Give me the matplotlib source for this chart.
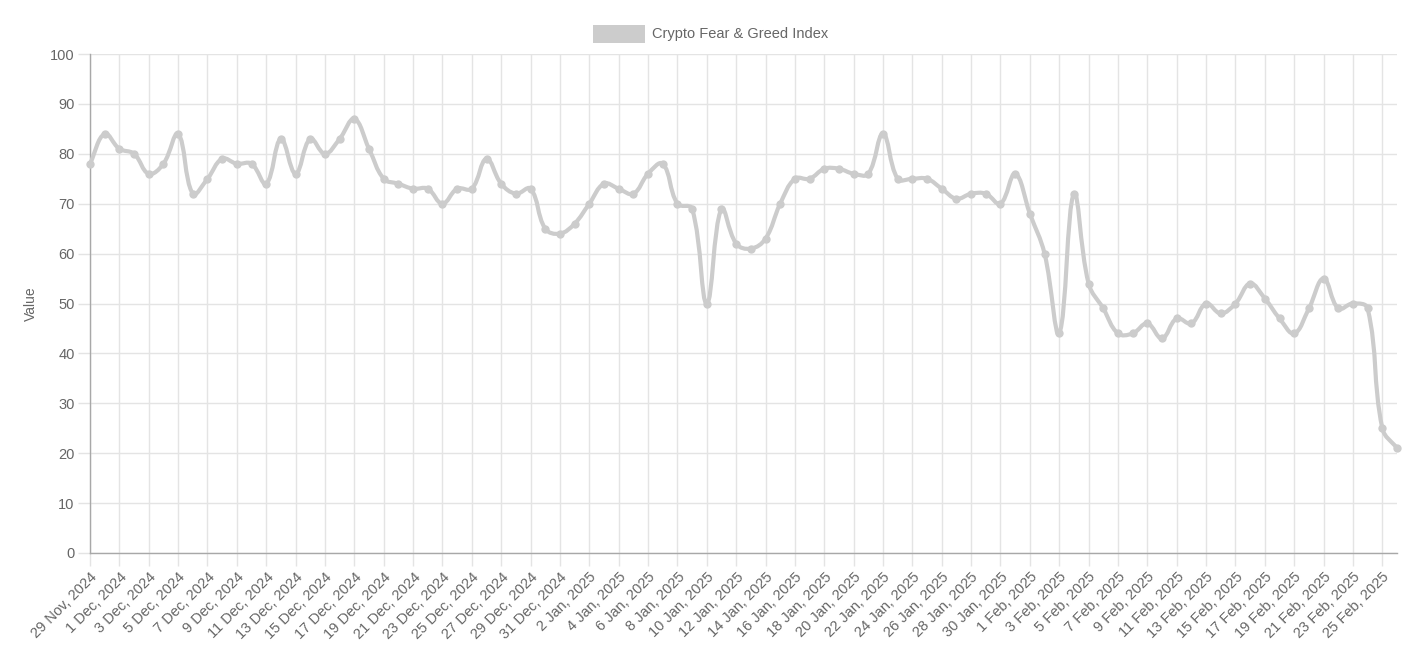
import numpy as np
import pandas as pd
import matplotlib
matplotlib.use('Agg')
import matplotlib.pyplot as plt
from matplotlib.path import Path
from matplotlib.patches import PathPatch, Rectangle

# daily index values, 29 Nov 2024 .. 26 Feb 2025
dates = pd.date_range('2024-11-29', '2025-02-26', freq='D')
values = [78, 84, 81, 80, 76, 78, 84, 72, 75, 79,
          78, 78, 74, 83, 76, 83, 80, 83, 87, 81,
          75, 74, 73, 73, 70, 73, 73, 79, 74, 72,
          73, 65, 64, 66, 70, 74, 73, 72, 76, 78,
          70, 69, 50, 69, 62, 61, 63, 70, 75, 75,
          77, 77, 76, 76, 84, 75, 75, 75, 73, 71,
          72, 72, 70, 76, 68, 60, 44, 72, 54, 49,
          44, 44, 46, 43, 47, 46, 50, 48, 50, 54,
          51, 47, 44, 49, 55, 49, 50, 49, 25, 21]
labels = [f"{d.day} {d.strftime('%b')}, {d.year}" for d in dates]
series_name = 'Crypto Fear & Greed Index'

plt.rcParams['font.family'] = ['Liberation Sans', 'DejaVu Sans']
W, H = 1427, 658
fig = plt.figure(figsize=(W / 100, H / 100), dpi=100)
left, right, top, bottom = 90, 1397, 54, 553
ax = fig.add_axes([left / W, 1 - bottom / H, (right - left) / W, (bottom - top) / H])

grid_c = '#e4e4e4'
text_c = '#666666'
line_c = '#cccccc'

x = np.arange(len(values))
y = np.array(values, dtype=float)
ax.set_xlim(0, len(values) - 1)
ax.set_ylim(0, 100)

# bezier spline like chart.js (tension 0.4), computed in pixel space
sx = (right - left) / (len(values) - 1)
sy = (bottom - top) / 100
px, py = x * sx, y * sy
t = 0.4
cp_in, cp_out = [], []
for i in range(len(px)):
    pp = max(i - 1, 0)
    nn = min(i + 1, len(px) - 1)
    d01 = np.hypot(px[i] - px[pp], py[i] - py[pp])
    d12 = np.hypot(px[nn] - px[i], py[nn] - py[i])
    tot = d01 + d12
    s01 = d01 / tot if tot else 0
    s12 = d12 / tot if tot else 0
    fa, fb = t * s01, t * s12
    dx, dy = px[nn] - px[pp], py[nn] - py[pp]
    cp_in.append((px[i] - fa * dx, py[i] - fa * dy))
    cp_out.append((px[i] + fb * dx, py[i] + fb * dy))
verts = [(px[0], py[0])]
codes = [Path.MOVETO]
for i in range(1, len(px)):
    verts += [cp_out[i - 1], cp_in[i], (px[i], py[i])]
    codes += [Path.CURVE4] * 3
verts = [(vx / sx, min(max(vy / sy, 0), 100)) for vx, vy in verts]
ax.add_patch(PathPatch(Path(verts, codes), fill=False, edgecolor=line_c, lw=3.0,
                       capstyle='round', joinstyle='round', zorder=3,
                       clip_on=False))
ax.scatter(x, y, s=36, color=line_c, zorder=4, linewidths=0, clip_on=False)

# axes / grid (chart.js auto-skips every other label, grid follows)
ax.set_xticks(x[::2])
ax.set_xticklabels(labels[::2], rotation=45, ha='right', va='top',
                   rotation_mode='anchor')
ax.set_yticks(range(0, 101, 10))
ax.grid(True, color=grid_c, lw=1)
ax.set_axisbelow(True)
ax.tick_params(axis='both', colors=grid_c, labelcolor=text_c, labelsize=10.5,
               length=9, width=1, pad=2)
ax.tick_params(axis='x', pad=3)
for s in ['top', 'right']:
    ax.spines[s].set_visible(False)
for s in ['left', 'bottom']:
    ax.spines[s].set_color('#a8a8a8')
    ax.spines[s].set_linewidth(1)
ax.set_ylabel('Value', color=text_c, fontsize=10, labelpad=9)

# legend at top
fig.patches.append(Rectangle((593 / W, 1 - 43 / H), 52 / W, 18 / H,
                             transform=fig.transFigure, facecolor='#cccccc',
                             edgecolor='none'))
fig.text(652 / W, 1 - 34 / H, series_name, color=text_c, fontsize=10.5,
         ha='left', va='center')

fig.savefig('out.png', dpi=100, facecolor='white')
